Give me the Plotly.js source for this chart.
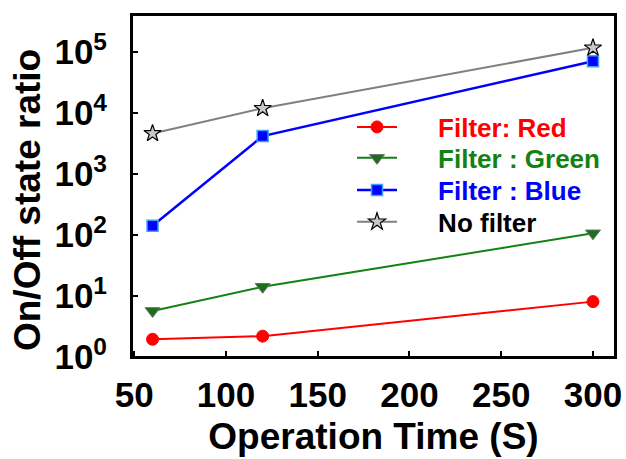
<!DOCTYPE html>
<html>
<head>
<meta charset="utf-8">
<script src="https://cdn.plot.ly/plotly-3.0.1.min.js"></script>
<style>html,body{margin:0;padding:0;background:#fff;}#chart{width:626px;height:459px;}</style>
</head>
<body>
<div id="chart"></div>
<script>
const times = [60, 120, 300];
const redValues = [1.95, 2.2, 8.1];
const greenValues = [5.7, 14.2, 107];
const blueValues = [142, 4200, 71000];
const noFilterValues = [4650, 12000, 118000];
const seriesNames = ["Filter: Red", "Filter : Green", "Filter : Blue", "No filter"];
const xTickVals = [50, 100, 150, 200, 250, 300];
const yTickVals = [1, 10, 100, 1000, 10000, 100000];
const yTickText = ["10<sup>0</sup>", "10<sup>1</sup>", "10<sup>2</sup>", "10<sup>3</sup>", "10<sup>4</sup>", "10<sup>5</sup>"];
const xTitle = "Operation Time (S)";
const yTitle = "On/Off state ratio";

const FONT = "Liberation Sans, Arial, sans-serif";
const PAD = "\u00a0\u00a0\u00a0\u00a0\u00a0";
const legendColors = ["#ff0000", "#138213", "#0000ff", "#000000"];
const legendIds = ["legend", "legend2", "legend3", "legend4"];
const legendY = [0.6725, 0.582, 0.488, 0.395];

const traces = [
  {x: times, y: redValues, name: PAD + seriesNames[0], mode: "lines+markers", legend: "legend",
   line: {color: "#ff0000", width: 2},
   marker: {symbol: "circle", size: 12, color: "#ff0000", line: {color: "#ff0000", width: 1}}},
  {x: times, y: greenValues, name: PAD + seriesNames[1], mode: "lines+markers", legend: "legend2",
   line: {color: "#138213", width: 2},
   marker: {symbol: "triangle-down", size: 13, color: "#1b6e1b", line: {color: "#707070", width: 1}}},
  {x: times, y: blueValues, name: PAD + seriesNames[2], mode: "lines+markers", legend: "legend3",
   line: {color: "#0000ff", width: 2.5},
   marker: {symbol: "square", size: 11, color: "#0000ff", line: {color: "#3ca0ff", width: 1.5}}},
  {x: times, y: noFilterValues, name: PAD + seriesNames[3], mode: "lines+markers", legend: "legend4",
   line: {color: "#808080", width: 2},
   marker: {symbol: "star", size: 13, color: "#c8c8c8", line: {color: "#000000", width: 1.2}}}
];

const layout = {
  width: 626, height: 459,
  margin: {l: 132, r: 11, t: 15, b: 102},
  paper_bgcolor: "#ffffff", plot_bgcolor: "#ffffff",
  font: {family: FONT, color: "#000"},
  showlegend: true,
  xaxis: {
    range: [48.8, 312], tickvals: xTickVals, ticktext: xTickVals.map(String),
    showgrid: false, zeroline: false,
    showline: true, linecolor: "#000", linewidth: 2, mirror: true,
    ticks: "inside", ticklen: 6, tickwidth: 2, tickcolor: "#000",
    tickfont: {family: FONT, size: 35, weight: "bold", color: "#000"},
    ticklabelstandoff: 6,
    title: {text: xTitle, font: {family: FONT, size: 37, weight: "bold", color: "#000"}, standoff: 10}
  },
  yaxis: {
    type: "log", range: [0, 5.61], tickvals: yTickVals, ticktext: yTickText,
    showgrid: false, zeroline: false,
    showline: true, linecolor: "#000", linewidth: 2, mirror: true,
    ticks: "inside", ticklen: 6, tickwidth: 2, tickcolor: "#000",
    tickfont: {family: FONT, size: 35, weight: "bold", color: "#000"},
    ticklabelstandoff: 16
  },
  annotations: [{
    text: yTitle, xref: "paper", yref: "paper", x: -0.2174, y: 0.459,
    xanchor: "center", yanchor: "middle", textangle: -90, showarrow: false,
    font: {family: FONT, size: 37, weight: "bold", color: "#000"}
  }],
  shapes: [{type: "rect", xref: "paper", yref: "paper", x0: 0, x1: 1, y0: 0, y1: 1,
            line: {color: "#000000", width: 2}, fillcolor: "rgba(0,0,0,0)", layer: "above"}]
};

legendIds.forEach(function(id, i){
  layout[id] = {
    x: 0.4555, y: legendY[i], xanchor: "left", yanchor: "middle",
    bgcolor: "rgba(0,0,0,0)", borderwidth: 0,
    font: {family: FONT, size: 26, weight: "bold", color: legendColors[i]},
    itemwidth: 40
  };
});

Plotly.newPlot("chart", traces, layout, {staticPlot: true, displayModeBar: false});
</script>
</body>
</html>
